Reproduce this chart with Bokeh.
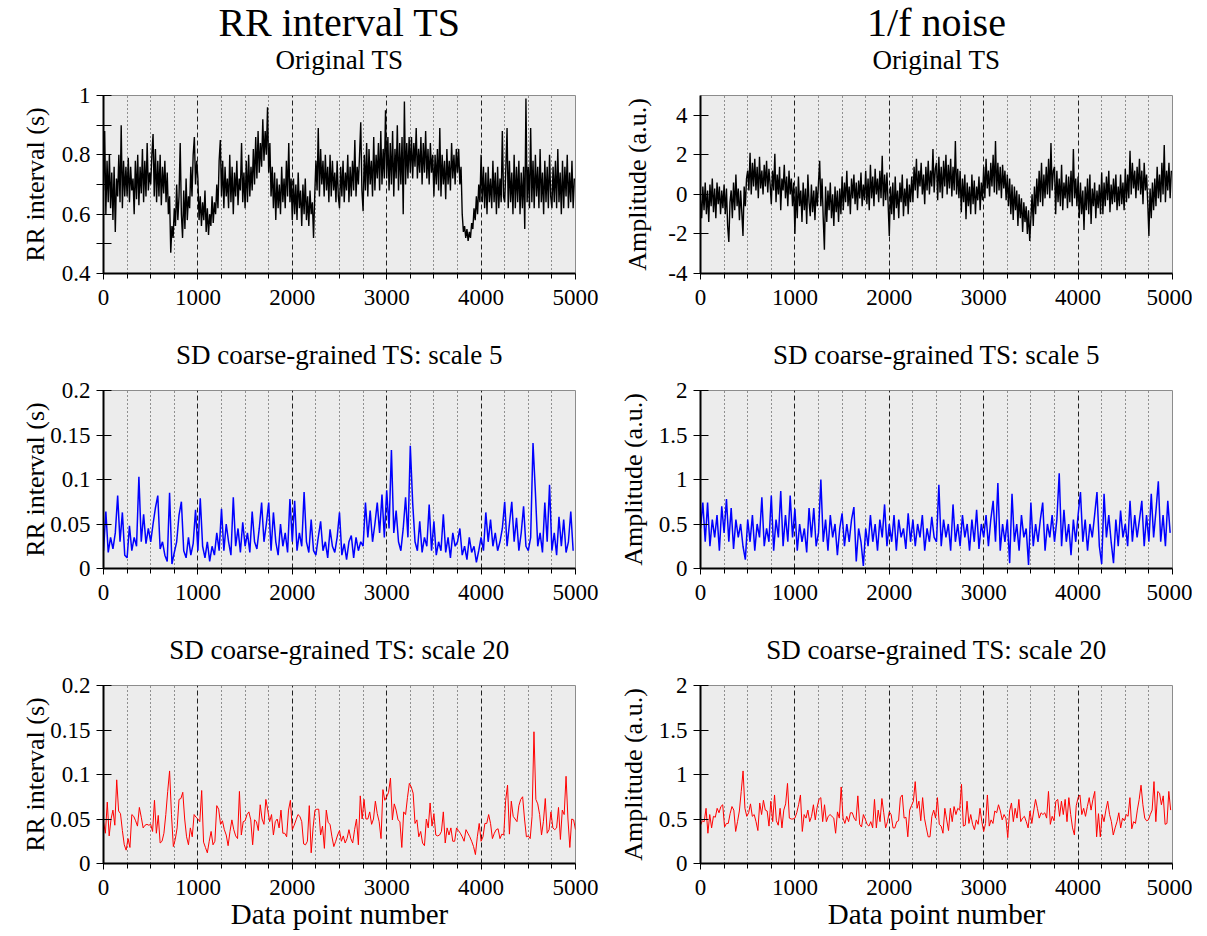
import numpy as np
from bokeh.plotting import figure
from bokeh.layouts import column, row
from bokeh.models import Title, FixedTicker, Grid, Range1d, NumeralTickFormatter
from bokeh.embed import file_html
from bokeh.resources import INLINE

FONT = "Liberation Serif"

# ---------------- data ----------------
x_major = [0, 1000, 2000, 3000, 4000, 5000]
x_minor = [250, 500, 750, 1250, 1500, 1750, 2250, 2500, 2750, 3250, 3500, 3750, 4250, 4500, 4750]
x_dashed = [1000, 2000, 3000, 4000]

# RR interval, original TS (one value per 12.5 data points, 20 per 250-point cell)
rr_orig = [
    0.68, 0.88, 0.60, 0.78, 0.64, 0.80, 0.62, 0.74, 0.58, 0.76, 0.54, 0.72, 0.66, 0.80, 0.64, 0.90, 0.62, 0.78, 0.66, 0.76,
    0.66, 0.79, 0.64, 0.76, 0.68, 0.72, 0.60, 0.78, 0.65, 0.80, 0.63, 0.76, 0.67, 0.82, 0.64, 0.78, 0.66, 0.84, 0.68, 0.74,
    0.70, 0.80, 0.87, 0.66, 0.82, 0.64, 0.78, 0.66, 0.80, 0.63, 0.76, 0.67, 0.78, 0.64, 0.74, 0.60, 0.66, 0.47, 0.56, 0.52,
    0.62, 0.56, 0.70, 0.58, 0.66, 0.84, 0.60, 0.52, 0.68, 0.55, 0.72, 0.58, 0.66, 0.62, 0.76, 0.66, 0.80, 0.86, 0.70, 0.78,
    0.72, 0.58, 0.66, 0.56, 0.64, 0.58, 0.68, 0.54, 0.62, 0.53, 0.60, 0.56, 0.66, 0.57, 0.64, 0.60, 0.70, 0.62, 0.78, 0.85,
    0.66, 0.78, 0.62, 0.76, 0.66, 0.72, 0.62, 0.80, 0.64, 0.76, 0.60, 0.74, 0.66, 0.78, 0.63, 0.72, 0.68, 0.84, 0.64, 0.74,
    0.62, 0.78, 0.64, 0.80, 0.66, 0.76, 0.68, 0.82, 0.70, 0.86, 0.72, 0.88, 0.74, 0.84, 0.76, 0.92, 0.78, 0.88, 0.80, 0.96,
    0.74, 0.84, 0.66, 0.76, 0.62, 0.74, 0.58, 0.72, 0.62, 0.70, 0.60, 0.76, 0.64, 0.72, 0.62, 0.78, 0.66, 0.84, 0.64, 0.72,
    0.58, 0.72, 0.60, 0.70, 0.58, 0.74, 0.62, 0.68, 0.56, 0.70, 0.60, 0.72, 0.58, 0.66, 0.56, 0.68, 0.60, 0.64, 0.52, 0.66,
    0.78, 0.68, 0.89, 0.66, 0.82, 0.70, 0.78, 0.66, 0.80, 0.68, 0.76, 0.64, 0.80, 0.66, 0.78, 0.68, 0.74, 0.64, 0.78, 0.66,
    0.62, 0.76, 0.66, 0.78, 0.64, 0.74, 0.68, 0.80, 0.64, 0.76, 0.66, 0.78, 0.68, 0.85, 0.66, 0.76, 0.70, 0.80, 0.91, 0.68,
    0.61, 0.80, 0.68, 0.84, 0.66, 0.82, 0.70, 0.78, 0.66, 0.86, 0.68, 0.80, 0.72, 0.84, 0.68, 0.88, 0.70, 0.82, 0.72, 0.95,
    0.72, 0.86, 0.68, 0.84, 0.70, 0.88, 0.66, 0.82, 0.72, 0.90, 0.68, 0.84, 0.70, 0.86, 0.60, 0.98, 0.70, 0.84, 0.72, 0.86,
    0.74, 0.86, 0.72, 0.84, 0.76, 0.89, 0.72, 0.82, 0.74, 0.86, 0.70, 0.84, 0.74, 0.88, 0.72, 0.82, 0.70, 0.84, 0.74, 0.80,
    0.66, 0.80, 0.70, 0.82, 0.68, 0.89, 0.66, 0.80, 0.70, 0.78, 0.65, 0.82, 0.70, 0.78, 0.68, 0.84, 0.72, 0.80, 0.70, 0.82,
    0.74, 0.82, 0.70, 0.76, 0.60, 0.54, 0.56, 0.52, 0.55, 0.51, 0.54, 0.52, 0.57, 0.55, 0.62, 0.58, 0.66, 0.60, 0.70, 0.64,
    0.80, 0.64, 0.76, 0.62, 0.74, 0.60, 0.76, 0.64, 0.72, 0.62, 0.78, 0.64, 0.74, 0.60, 0.76, 0.62, 0.72, 0.64, 0.88, 0.66,
    0.64, 0.76, 0.89, 0.62, 0.78, 0.64, 0.74, 0.60, 0.80, 0.62, 0.76, 0.64, 0.78, 0.60, 0.74, 0.62, 0.76, 0.55, 0.99, 0.64,
    0.76, 0.62, 0.89, 0.64, 0.78, 0.62, 0.80, 0.66, 0.76, 0.62, 0.82, 0.64, 0.74, 0.60, 0.78, 0.64, 0.76, 0.62, 0.80, 0.66,
    0.62, 0.76, 0.64, 0.78, 0.62, 0.82, 0.64, 0.74, 0.60, 0.78, 0.62, 0.76, 0.66, 0.80, 0.62, 0.74, 0.64, 0.78, 0.62, 0.72,
]

# 1/f noise, original TS (one value per 12.5 data points)
noise_orig = [
    -0.3, -1.2, 0.4, -0.8, 0.6, -1.0, 0.2, -1.4, 0.5, -0.6, 0.8, -0.9, 0.3, -1.2, 0.6, -0.5, 0.4, -1.0, 0.2, -0.7,
    0.5, -1.0, 0.3, -1.6, -2.4, -0.4, 0.2, -1.2, 0.6, -0.8, 1.0, -0.6, 0.3, -1.3, 0.2, -0.9, -2.1, 0.4, -0.6, 0.8,
    1.2, 0.2, 2.1, 0.0, 1.6, 0.4, 1.8, 0.2, 1.4, -0.2, 1.9, 0.3, 1.2, 0.0, 1.5, 0.4, 1.7, 0.1, 1.3, 0.5,
    -0.5, 1.2, 0.2, 2.05, -0.4, 1.0, 0.0, 1.4, -0.8, 0.8, 0.2, 1.5, -0.2, 0.9, -0.6, 1.2, 0.0, 0.8, -0.6, 0.6,
    -2.0, 0.4, -1.2, 0.9, -0.6, 0.2, -1.4, 0.6, -0.8, 0.3, -1.5, 1.0, -0.4, -1.1, 0.5, -0.9, 0.2, -1.3, 0.4, -0.6,
    0.6, 1.7, -0.6, 0.8, -1.2, -2.8, 0.4, -1.4, 0.2, -0.8, 0.6, -1.2, 0.0, -1.6, 0.4, -0.9, 0.2, -1.4, 0.3, -1.0,
    0.9, -0.8, 0.6, -0.4, 1.2, -0.6, 0.4, -1.0, 0.8, -0.2, 1.0, -0.5, 0.6, -0.8, 0.7, -0.2, 1.1, -0.6, 0.5, -0.3,
    1.2, -0.5, 0.8, -0.8, 1.5, -0.2, 0.9, -0.6, 1.3, 0.0, 0.8, -0.4, 1.2, -0.2, 1.95, -0.6, 1.0, -0.3, 1.1, -0.5,
    -2.1, 0.4, -1.0, 0.6, -1.3, 0.9, -0.7, 0.2, -1.2, 0.6, -0.4, 1.0, -1.1, 0.3, -0.6, 0.8, -1.0, 0.5, -0.4, 0.9,
    -0.4, 1.4, 0.2, 1.8, -0.2, 1.2, 0.4, 1.6, 0.0, 1.0, -0.5, 1.4, 0.2, 1.7, 0.0, 1.2, 0.4, 2.3, 0.1, 1.3,
    1.6, -0.3, 1.9, 0.1, 1.4, -0.2, 1.7, 0.4, 2.0, 0.0, 1.5, 0.3, 1.8, -0.1, 1.4, 0.2, 2.7, 0.0, 1.3, -0.2,
    1.2, -0.9, 0.8, -0.4, 1.0, -1.25, 0.6, -0.6, 0.4, -1.0, 1.0, -0.5, 0.7, -1.0, 0.4, -0.3, 0.9, -0.8, 0.6, -0.3,
    1.4, -0.2, 1.8, 0.3, 1.2, -0.1, 1.6, 0.4, 2.0, 0.1, 2.7, 0.0, 1.6, 0.2, 1.4, -0.2, 1.5, 0.3, 1.2, -0.3,
    1.0, -0.6, 0.8, -1.0, 0.5, -1.3, 0.4, -0.8, 0.2, -1.6, 0.0, -1.2, -0.2, -1.9, -0.4, -1.4, -0.6, -2.0, -0.8, -2.35,
    -1.2, 0.0, -1.6, 0.4, -1.0, 0.8, -0.6, 1.2, -0.4, 1.6, -0.6, 1.0, -0.2, 1.4, 0.0, 1.8, -0.2, 2.6, 0.2, 1.2,
    1.4, -1.0, 1.2, -0.4, 0.8, -0.6, 1.5, -0.8, 0.6, -0.2, 1.0, -0.7, 0.9, -0.4, 1.2, -0.6, 2.3, -0.2, 0.8, -0.6,
    0.9, -1.2, 0.6, -1.0, 0.2, -1.8, 0.4, -0.8, 0.8, -1.0, 1.0, -1.5, 0.3, -0.6, 0.6, -1.2, 0.2, -0.7, 0.5, -1.0,
    1.1, -1.0, 0.6, -0.6, 0.9, -0.3, 1.2, -0.9, 0.5, -0.5, 0.8, -0.4, 1.0, -0.8, 0.4, -0.6, 1.0, -0.5, 0.6, -0.8,
    1.3, -0.4, 1.0, -0.2, 2.2, 0.0, 1.6, 0.3, 1.2, -0.2, 1.4, 0.2, 1.8, 0.0, 1.2, -0.5, 1.6, 0.2, 1.0, -0.4,
    -2.1, 0.3, -1.2, 0.6, -0.8, 0.8, -0.6, 1.4, -0.2, 1.0, -0.4, 1.6, 0.0, 2.5, -0.4, 1.2, 0.2, 1.6, -0.2, 1.2,
]

# RR interval, SD coarse-grained scale 5 (one value per 25 data points)
rr_sd5 = [
    0.020, 0.064, 0.018, 0.035, 0.022, 0.040, 0.082, 0.030, 0.063, 0.015,
    0.012, 0.048, 0.020, 0.035, 0.025, 0.103, 0.030, 0.061, 0.028, 0.045,
    0.030, 0.050, 0.068, 0.082, 0.022, 0.030, 0.015, 0.008, 0.085, 0.005,
    0.018, 0.030, 0.060, 0.075, 0.020, 0.012, 0.035, 0.015, 0.028, 0.066,
    0.020, 0.079, 0.025, 0.012, 0.030, 0.008, 0.025, 0.015, 0.040, 0.020,
    0.067, 0.020, 0.050, 0.030, 0.015, 0.080, 0.025, 0.045, 0.018, 0.052,
    0.025, 0.040, 0.018, 0.064, 0.030, 0.022, 0.045, 0.074, 0.030, 0.050,
    0.074, 0.020, 0.063, 0.030, 0.015, 0.050, 0.025, 0.040, 0.018, 0.078,
    0.030, 0.076, 0.020, 0.040, 0.025, 0.086, 0.030, 0.018, 0.055, 0.020,
    0.015, 0.035, 0.053, 0.020, 0.030, 0.012, 0.044, 0.025, 0.018, 0.035,
    0.063, 0.015, 0.028, 0.010, 0.030, 0.037, 0.012, 0.035, 0.020, 0.030,
    0.025, 0.074, 0.035, 0.065, 0.030, 0.050, 0.074, 0.040, 0.083, 0.035,
    0.088, 0.045, 0.133, 0.040, 0.065, 0.030, 0.020, 0.045, 0.080, 0.035,
    0.138, 0.074, 0.030, 0.020, 0.053, 0.018, 0.035, 0.025, 0.072, 0.020,
    0.053, 0.015, 0.030, 0.020, 0.061, 0.018, 0.035, 0.012, 0.040, 0.025,
    0.030, 0.045, 0.015, 0.025, 0.010, 0.035, 0.018, 0.025, 0.007, 0.020,
    0.035, 0.020, 0.063, 0.030, 0.055, 0.025, 0.040, 0.020, 0.030, 0.045,
    0.075, 0.025, 0.050, 0.075, 0.030, 0.057, 0.020, 0.040, 0.070, 0.025,
    0.020, 0.035, 0.141, 0.086, 0.025, 0.040, 0.018, 0.074, 0.030, 0.094,
    0.020, 0.040, 0.015, 0.058, 0.025, 0.055, 0.018, 0.030, 0.064, 0.020,
]

# 1/f noise, SD coarse-grained scale 5 (one value per 25 data points)
noise_sd5 = [
    0.45, 0.74, 0.30, 0.74, 0.25, 0.55, 0.35, 0.60, 0.20, 0.70,
    0.40, 0.78, 0.30, 0.68, 0.22, 0.55, 0.35, 0.50, 0.25, 0.10,
    0.55, 0.30, 0.60, 0.20, 0.50, 0.35, 0.80, 0.25, 0.45, 0.30,
    0.82, 0.20, 0.55, 0.35, 0.87, 0.25, 0.60, 0.30, 0.82, 0.35,
    0.67, 0.20, 0.50, 0.30, 0.45, 0.18, 0.68, 0.35, 0.68, 0.25,
    0.40, 1.00, 0.30, 0.55, 0.20, 0.60, 0.35, 0.50, 0.15, 0.45,
    0.62, 0.25, 0.50, 0.30, 0.55, 0.69, 0.08, 0.45, 0.30, 0.03,
    0.45, 0.25, 0.60, 0.30, 0.50, 0.20, 0.55, 0.35, 0.72, 0.25,
    0.50, 0.30, 0.60, 0.20, 0.55, 0.35, 0.45, 0.22, 0.62, 0.30,
    0.55, 0.25, 0.50, 0.35, 0.60, 0.20, 0.45, 0.30, 0.58, 0.35,
    0.30, 0.94, 0.25, 0.55, 0.35, 0.50, 0.20, 0.72, 0.30, 0.50,
    0.25, 0.60, 0.35, 0.50, 0.20, 0.55, 0.30, 0.66, 0.22, 0.50,
    0.35, 0.60, 0.25, 0.55, 0.76, 0.30, 0.96, 0.20, 0.50, 0.30,
    0.55, 0.06, 0.84, 0.30, 0.50, 0.20, 0.60, 0.35, 0.45, 0.04,
    0.74, 0.25, 0.50, 0.30, 0.55, 0.74, 0.20, 0.50, 0.35, 0.60,
    0.30, 0.55, 1.07, 0.25, 0.66, 0.30, 0.50, 0.15, 0.55, 0.30,
    0.60, 0.86, 0.30, 0.55, 0.20, 0.50, 0.35, 0.60, 0.86, 0.25,
    0.05, 0.84, 0.35, 0.60, 0.30, 0.06, 0.55, 0.25, 0.65, 0.35,
    0.50, 0.25, 0.76, 0.30, 0.60, 0.35, 0.55, 0.76, 0.25, 0.60,
    0.30, 0.84, 0.35, 0.65, 0.98, 0.30, 0.60, 0.25, 0.76, 0.40,
]

# RR interval, SD coarse-grained scale 20
rr_sd20 = [
    0.047, 0.034, 0.069, 0.031, 0.050, 0.060, 0.043, 0.094, 0.059, 0.056,
    0.037, 0.021, 0.015, 0.028, 0.018, 0.055, 0.053, 0.048, 0.042, 0.063,
    0.052, 0.040, 0.043, 0.044, 0.043, 0.044, 0.036, 0.071, 0.034, 0.054,
    0.023, 0.025, 0.034, 0.055, 0.081, 0.104, 0.055, 0.019, 0.027, 0.040,
    0.072, 0.073, 0.080, 0.050, 0.030, 0.021, 0.040, 0.030, 0.055, 0.052,
    0.050, 0.047, 0.082, 0.024, 0.018, 0.012, 0.025, 0.036, 0.021, 0.025,
    0.065, 0.061, 0.044, 0.048, 0.038, 0.032, 0.020, 0.036, 0.049, 0.038,
    0.031, 0.028, 0.081, 0.032, 0.047, 0.048, 0.055, 0.058, 0.049, 0.021,
    0.049, 0.047, 0.037, 0.066, 0.050, 0.044, 0.072, 0.060, 0.047, 0.055,
    0.032, 0.047, 0.050, 0.040, 0.060, 0.034, 0.034, 0.030, 0.060, 0.071,
    0.038, 0.043, 0.049, 0.055, 0.053, 0.047, 0.022, 0.021, 0.025, 0.065,
    0.012, 0.040, 0.060, 0.061, 0.061, 0.032, 0.042, 0.017, 0.060, 0.046,
    0.044, 0.030, 0.019, 0.025, 0.032, 0.037, 0.025,
    0.031, 0.023, 0.028, 0.038, 0.028, 0.023, 0.038, 0.050, 0.021, 0.076,
    0.050, 0.072, 0.050, 0.050, 0.058, 0.044, 0.050, 0.070, 0.056, 0.047,
    0.028, 0.083, 0.071, 0.075, 0.080, 0.096, 0.049, 0.067, 0.060, 0.049,
    0.047, 0.018, 0.058, 0.055, 0.074, 0.090, 0.086, 0.079, 0.045, 0.049,
    0.030, 0.036, 0.023, 0.020, 0.050, 0.040, 0.068, 0.042, 0.056, 0.032,
    0.031, 0.032, 0.036, 0.058, 0.023, 0.040, 0.032, 0.040, 0.025, 0.025,
    0.040, 0.037, 0.034, 0.030, 0.025, 0.038, 0.034, 0.030, 0.025, 0.019,
    0.010, 0.030, 0.045, 0.025, 0.030, 0.045, 0.045, 0.055, 0.045, 0.028,
    0.034, 0.038, 0.039, 0.028, 0.033, 0.032, 0.071, 0.088, 0.033, 0.070,
    0.053, 0.050, 0.047, 0.065, 0.072, 0.075, 0.050, 0.030, 0.031, 0.028,
    0.053, 0.148, 0.072, 0.067, 0.055, 0.032, 0.047, 0.073, 0.034, 0.038,
    0.058, 0.040, 0.038, 0.040, 0.063, 0.027, 0.060, 0.055, 0.098, 0.050,
    0.018, 0.050, 0.049, 0.038,
]

# 1/f noise, SD coarse-grained scale 20
noise_sd20 = [
    0.43, 0.48, 0.47, 0.62, 0.34, 0.55, 0.40, 0.53, 0.52, 0.62,
    0.57, 0.64, 0.66, 0.41, 0.45, 0.45, 0.56, 0.64, 0.60, 0.36,
    0.47, 0.59, 0.81, 1.04, 0.62, 0.53, 0.57, 0.67, 0.53, 0.55,
    0.47, 0.37, 0.68, 0.55, 0.71, 0.60, 0.59, 0.42, 0.70, 0.47,
    0.77, 0.48, 0.43, 0.62, 0.40, 0.60, 0.67, 0.90, 0.51, 0.50,
    0.50, 0.51, 0.57, 0.66, 0.77, 0.36, 0.55, 0.51, 0.60, 0.47,
    0.53, 0.66, 0.49, 0.63, 0.72, 0.74, 0.47, 0.66, 0.47, 0.53,
    0.55, 0.53, 0.51, 0.34, 0.58, 0.51, 0.86, 0.51, 0.45, 0.53,
    0.47, 0.57, 0.57, 0.51, 0.48, 0.76, 0.44, 0.41, 0.55, 0.50,
    0.44, 0.42, 0.47, 0.40, 0.72, 0.40, 0.60, 0.47, 0.73, 0.57,
    0.40, 0.47, 0.58, 0.55, 0.40, 0.40, 0.47, 0.48, 0.74, 0.77,
    0.51, 0.52, 0.30, 0.60, 0.65, 0.70, 0.92, 0.62, 0.70, 0.48,
    0.74, 0.51, 0.40, 0.30, 0.30, 0.53, 0.60, 0.51, 0.74, 0.44,
    0.42, 0.34, 0.62, 0.49, 0.37, 0.62, 0.47, 0.64, 0.55, 0.62,
    0.60, 0.89, 0.42, 0.43, 0.70, 0.45, 0.55, 0.44, 0.38, 0.49,
    0.44, 0.62, 0.47, 0.36, 0.45, 0.77, 0.42, 0.49, 0.45, 0.59,
    0.57, 0.66, 0.59, 0.49, 0.55, 0.51, 0.29, 0.59, 0.68, 0.47,
    0.62, 0.51, 0.72, 0.47, 0.51, 0.53, 0.47, 0.40, 0.59, 0.45,
    0.59, 0.72, 0.62, 0.51, 0.57, 0.55, 0.57, 0.51, 0.81, 0.44,
    0.53, 0.48, 0.70, 0.72, 0.53, 0.70, 0.55, 0.72, 0.47, 0.74,
    0.55, 0.40, 0.32, 0.65, 0.74, 0.77, 0.55, 0.62, 0.53, 0.64,
    0.74, 0.60, 0.72, 0.81, 0.30, 0.56, 0.30, 0.55, 0.47, 0.60,
    0.70, 0.55, 0.47, 0.32, 0.40, 0.47, 0.57, 0.40, 0.51, 0.48,
    0.55, 0.53, 0.74, 0.39, 0.47, 0.45, 0.60, 0.72, 0.88, 0.66,
    0.51, 0.48, 0.49, 0.55, 0.60, 0.92, 0.47, 0.81, 0.79, 0.66,
    0.76, 0.44, 0.45, 0.81, 0.60,
]

# y-axis settings per panel
rr_orig_major = [0.4, 0.6, 0.8, 1.0]
rr_orig_minor = [0.5, 0.7, 0.9]
noise_orig_major = [-4, -2, 0, 2, 4]
rr_sd_major = [0, 0.05, 0.1, 0.15, 0.2]
noise_sd_major = [0, 0.5, 1, 1.5, 2]

TICK_FS = "23px"


def panel(ys, step, color, lw, ylabel, ylab_off, yr, ymajor, yminor, titles, xlabel,
          left, right, top, bottom):
    p = figure(frame_width=472, frame_height=178,
               x_range=Range1d(0, 5000), y_range=Range1d(*yr),
               output_backend="svg", toolbar_location=None,
               min_border_left=left, min_border_right=right,
               min_border_top=top, min_border_bottom=bottom)
    p.background_fill_color = "#ececec"
    p.border_fill_color = "white"
    p.outline_line_color = "#8c8c8c"
    p.outline_line_width = 1
    p.xgrid.visible = False
    p.ygrid.visible = False

    p.add_layout(Grid(dimension=0, ticker=FixedTicker(ticks=x_minor),
                      grid_line_color="#333333", grid_line_dash="1 3", grid_line_width=1))
    p.add_layout(Grid(dimension=0, ticker=FixedTicker(ticks=x_dashed),
                      grid_line_color="#222222", grid_line_dash="5 3", grid_line_width=1))

    xs = np.arange(len(ys)) * step
    p.line(xs, ys, line_color=color, line_width=lw)

    xa = p.xaxis[0]
    xa.ticker = FixedTicker(ticks=x_major, minor_ticks=x_minor)
    xa.formatter = NumeralTickFormatter(format="0")
    xa.axis_line_color = "black"
    xa.axis_line_width = 2
    xa.major_tick_in = 0
    xa.major_tick_out = 6
    xa.minor_tick_in = 0
    xa.minor_tick_out = 5
    xa.major_tick_line_color = "black"
    xa.minor_tick_line_color = "black"
    xa.major_label_standoff = 10
    xa.major_label_text_font = FONT
    xa.major_label_text_font_size = TICK_FS
    xa.major_label_text_color = "black"
    if xlabel:
        xa.axis_label = xlabel
        xa.axis_label_text_font = FONT
        xa.axis_label_text_font_size = "29px"
        xa.axis_label_text_font_style = "normal"
        xa.axis_label_text_color = "black"
        xa.axis_label_standoff = 0

    ya = p.yaxis[0]
    ya.ticker = FixedTicker(ticks=ymajor, minor_ticks=yminor)
    ya.formatter = NumeralTickFormatter(format="0.[00]")
    ya.axis_line_color = "black"
    ya.axis_line_width = 2
    ya.major_tick_in = 8
    ya.major_tick_out = 7
    ya.minor_tick_in = 8
    ya.minor_tick_out = 7
    ya.major_tick_line_color = "black"
    ya.minor_tick_line_color = "black"
    ya.major_label_standoff = 6
    ya.major_label_text_font = FONT
    ya.major_label_text_font_size = TICK_FS
    ya.major_label_text_color = "black"
    ya.axis_label = ylabel
    ya.axis_label_text_font = FONT
    ya.axis_label_text_font_size = "26px"
    ya.axis_label_text_font_style = "normal"
    ya.axis_label_text_color = "black"
    ya.axis_label_standoff = ylab_off

    for txt, size, stand in titles:
        p.add_layout(Title(text=txt, align="center", text_font=FONT,
                           text_font_size=size, text_font_style="normal",
                           text_color="black", standoff=stand), "above")
    return p


LB, LR, RB, RR = 103, 40, 85, 20
SUB_FS = "27px"
BIG_FS = "40px"
SUB_OFF = 42
BIG_OFF = -46

p1 = panel(rr_orig, 12.5, "black", 1.4, "RR interval (s)", 9, (0.4, 1.0), rr_orig_major, rr_orig_minor,
           [("Original TS", SUB_FS, SUB_OFF), ("RR interval TS", BIG_FS, BIG_OFF)], None, LB, LR, 95, 43)
p2 = panel(noise_orig, 12.5, "black", 1.4, "Amplitude (a.u.)", 13, (-4, 5), noise_orig_major, [],
           [("Original TS", SUB_FS, SUB_OFF), ("1/f noise", BIG_FS, BIG_OFF)], None, RB, RR, 95, 43)
p3 = panel(rr_sd5, 25, "#0000ff", 1.5, "RR interval (s)", -3, (0, 0.2), rr_sd_major, [],
           [("SD coarse-grained TS: scale 5", SUB_FS, SUB_OFF)], None, LB, LR, 73, 43)
p4 = panel(noise_sd5, 25, "#0000ff", 1.5, "Amplitude (a.u.)", 8, (0, 2), noise_sd_major, [],
           [("SD coarse-grained TS: scale 5", SUB_FS, SUB_OFF)], None, RB, RR, 73, 43)
p5 = panel(rr_sd20, 20, "#ff0000", 1.0, "RR interval (s)", -3, (0, 0.2), rr_sd_major, [],
           [("SD coarse-grained TS: scale 20", SUB_FS, SUB_OFF)], "Data point number", LB, LR, 73, 60)
p6 = panel(noise_sd20, 5000 / len(noise_sd20), "#ff0000", 1.0, "Amplitude (a.u.)", 8, (0, 2), noise_sd_major, [],
           [("SD coarse-grained TS: scale 20", SUB_FS, SUB_OFF)], "Data point number", RB, RR, 73, 60)

layout = column(row(p1, p2), row(p3, p4), row(p5, p6))
open("out.html", "w").write(file_html(layout, INLINE))
